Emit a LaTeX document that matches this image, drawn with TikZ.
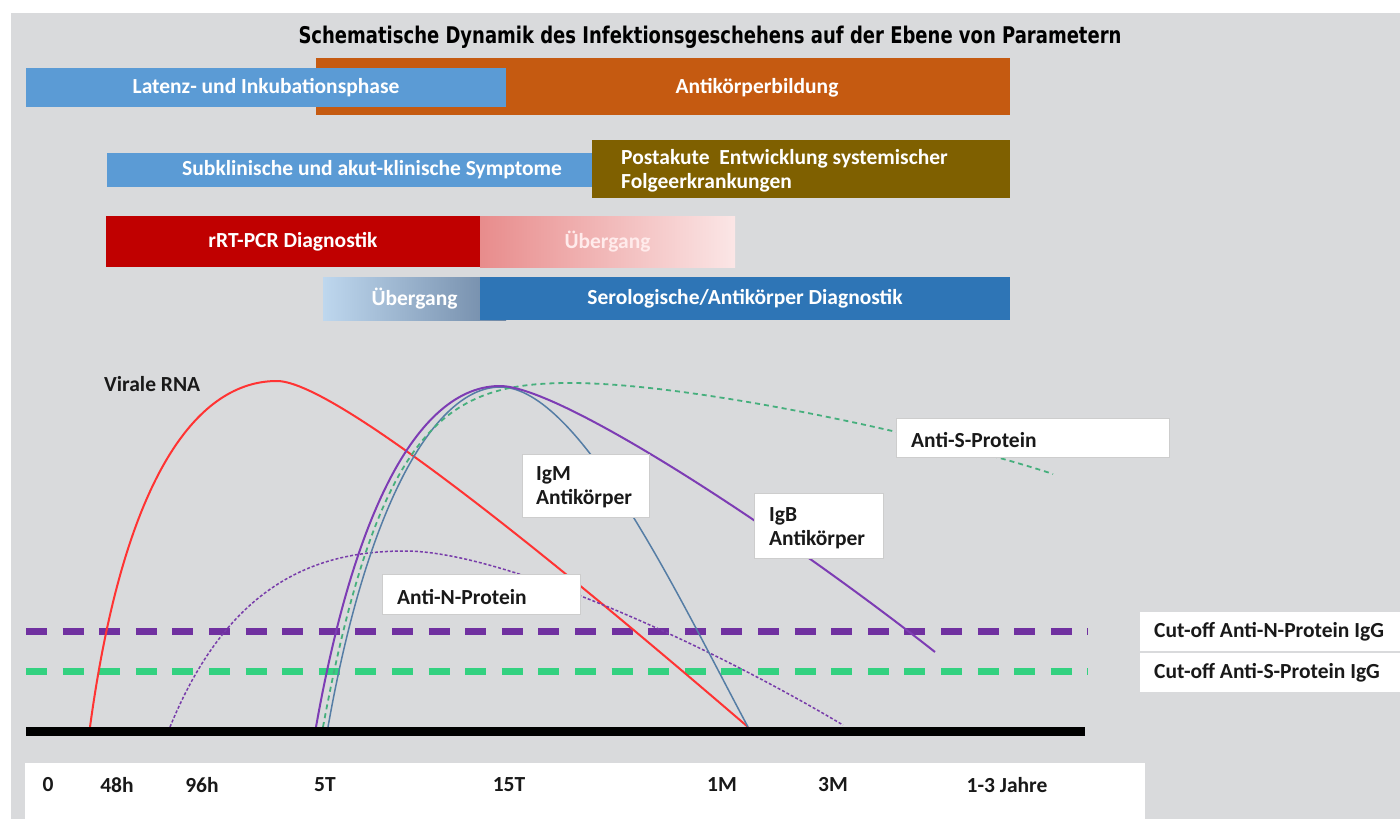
\documentclass[tikz,border=0pt]{standalone}
\usepackage{fontspec}
\setmainfont{Carlito}
\newfontfamily\titlefont{DejaVu Sans Condensed}
\definecolor{bggrey}{RGB}{217,218,220}
\definecolor{latblue}{RGB}{91,155,213}
\definecolor{orangeC}{RGB}{197,90,17}
\definecolor{brownC}{RGB}{127,96,0}
\definecolor{redC}{RGB}{192,0,0}
\definecolor{trRedL}{RGB}{232,140,140}
\definecolor{trRedR}{RGB}{251,230,230}
\definecolor{trBlueL}{RGB}{190,215,238}
\definecolor{trBlueR}{RGB}{110,135,165}
\definecolor{seroC}{RGB}{46,117,182}
\definecolor{cutP}{RGB}{112,48,160}
\definecolor{cutG}{RGB}{51,209,128}
\definecolor{rnaC}{RGB}{255,51,51}
\definecolor{igbC}{RGB}{125,60,180}
\definecolor{igmC}{RGB}{85,125,165}
\definecolor{antiNC}{RGB}{120,60,170}
\definecolor{antiSC}{RGB}{70,175,125}
\definecolor{txtC}{RGB}{25,25,25}
\definecolor{boxline}{RGB}{205,205,205}
\newcommand{\myfont}{\fontsize{21.5}{24}\selectfont\bfseries}
\begin{document}
\begin{tikzpicture}[x=1pt,y=-1pt,
  bar/.style={rectangle, inner sep=0pt, text=white, font=\myfont},
  bartext/.style={inner sep=0pt, text=white, font=\myfont},
  lbl/.style={rectangle, fill=white, draw=boxline, line width=0.6, inner sep=0pt},
  lbltext/.style={inner sep=0pt, anchor=west, align=left, text=txtC, font=\myfont},
  tick/.style={inner sep=0pt, text=txtC, font=\myfont},
  cutline/.style={line width=7, dash pattern=on 21 off 15.6},
  curve/.style={line width=2}
]
\useasboundingbox (0,0) rectangle (1400,819);
\fill[white] (0,0) rectangle (1400,819);
\fill[bggrey] (11,13) rectangle (1400,819);

% title
\node[inner sep=0pt, text=black, font=\titlefont\fontsize{23}{26}\selectfont\bfseries] (title) at (710,37) {\scalebox{0.87}[1]{Schematische Dynamik des Infektionsgeschehens auf der Ebene von Parametern}};

% row 1
\node[bar, fill=orangeC, minimum width=694, minimum height=57] (antib) at (663,86.5) {};
\node[bartext] (antibt) at (757,88) {Antikörperbildung};
\node[bar, fill=latblue, minimum width=480, minimum height=39] (latenz) at (266,87.5) {Latenz- und Inkubationsphase};

% row 2
\node[bar, fill=latblue, minimum width=530, minimum height=34] (subkl) at (372,170) {Subklinische und akut-klinische Symptome};
\node[bar, fill=brownC, minimum width=418, minimum height=58] (postak) at (801,169) {};
\node[bartext, anchor=west, align=left] (postakt) at (621,171) {Postakute\ \ Entwicklung systemischer\\Folgeerkrankungen};

% row 3
\node[bar, fill=redC, minimum width=374, minimum height=51] (pcr) at (293,241.5) {rRT-PCR Diagnostik};
\node[bar, left color=trRedL, right color=trRedR, minimum width=255, minimum height=51, text=white!92!red] (uebR) at (607.5,241.5) {Übergang};

% row 4
\node[bar, left color=trBlueL, right color=trBlueR, minimum width=183, minimum height=43] (uebB) at (414.5,298.5) {Übergang};
\node[bar, fill=seroC, minimum width=530, minimum height=43] (sero) at (745,298.5) {Serologische/Antikörper Diagnostik};

% cut-off lines
\draw[cutline, cutP] (26,631) coordinate (cpA) -- (1088,631) coordinate (cpB);
\draw[cutline, cutG] (26,671) coordinate (cgA) -- (1088,671) coordinate (cgB);

% curves
\draw[curve, rnaC] (90,727) .. controls (125,470) and (200,381) .. (277,381)
                            .. controls (340,381) and (600,600) .. (748,727);
\draw[line width=1.5, antiNC, dash pattern=on 3 off 2] (170,727) .. controls (230,580) and (320,551) .. (405,551)
                            .. controls (500,551) and (700,640) .. (843,725);
\draw[line width=1.5, igmC] (328,727) .. controls (370,490) and (440,387) .. (500,387)
                            .. controls (580,387) and (680,600) .. (748,727);
\draw[line width=1.8, antiSC, dash pattern=on 5 off 4] (323,727) .. controls (380,420) and (450,383) .. (570,383)
                            .. controls (700,383) and (950,440) .. (1053,474);
\draw[curve, igbC] (316,727) .. controls (360,480) and (430,386) .. (500,386)
                            .. controls (560,386) and (780,530) .. (935,652);

% axis
\draw[line width=9, black] (26,731) coordinate (ax0) -- (1085,731) coordinate (ax1);

% curve labels
\node[inner sep=0pt, anchor=west, text=txtC, font=\myfont] (rna) at (104,384) {Virale RNA};
\node[lbl, minimum width=127, minimum height=63] (igmbox) at (585.5,485.5) {};
\node[lbltext] (igmt) at (536,487) {IgM\\Antikörper};
\node[lbl, minimum width=129, minimum height=65] (igbbox) at (818.5,525.5) {};
\node[lbltext] (igbt) at (769,528) {IgB\\Antikörper};
\node[lbl, minimum width=273, minimum height=39] (antisbox) at (1032.5,437.5) {};
\node[lbltext] (antist) at (911,440) {Anti-S-Protein};
\node[lbl, minimum width=198, minimum height=40] (antinbox) at (481,594) {};
\node[lbltext] (antint) at (397,597) {Anti-N-Protein};

% cut-off labels
\node[lbl, draw=none, minimum width=262, minimum height=39, anchor=west] (cutNbox) at (1140,631) {};
\node[lbltext] (cutNt) at (1154,632) {Cut-off Anti-N-Protein IgG};
\node[lbl, draw=none, minimum width=262, minimum height=39, anchor=west] (cutSbox) at (1140,672) {};
\node[lbltext] (cutSt) at (1154,673) {Cut-off Anti-S-Protein IgG};

% tick labels
\node[rectangle, fill=white, inner sep=0pt, minimum width=1120, minimum height=57, anchor=north west] (tickbox) at (25,763) {};
\node[tick] (t0) at (48,785) {0};
\node[tick] (t48) at (117,785) {48h};
\node[tick] (t96) at (202,785) {96h};
\node[tick] (t5) at (325,785) {5T};
\node[tick] (t15) at (509,785) {15T};
\node[tick] (t1m) at (722,785) {1M};
\node[tick] (t3m) at (833,785) {3M};
\node[tick] (tj) at (1007,785) {1-3 Jahre};
\end{tikzpicture}
\end{document}
